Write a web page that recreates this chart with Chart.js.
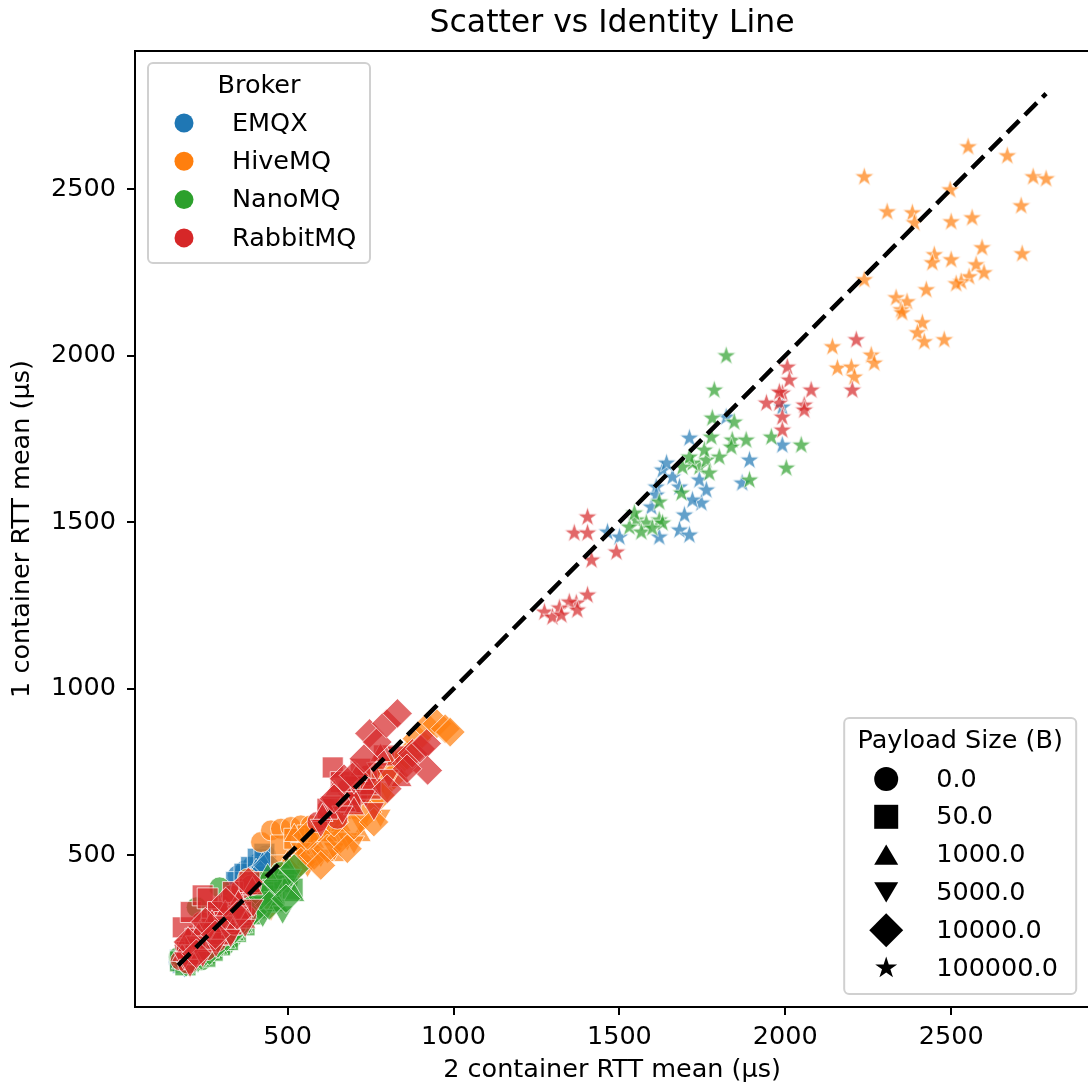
<!DOCTYPE html>
<html>
<head>
<meta charset="utf-8">
<title>Scatter vs Identity Line</title>
<script src="https://cdn.jsdelivr.net/npm/chart.js@4.4.1/dist/chart.umd.min.js"></script>
<style>
  html, body { margin: 0; padding: 0; background: #fff; overflow: hidden; }
  #wrap { position: absolute; left: 0; top: 0; }
</style>
</head>
<body>
<div id="wrap"><canvas id="rttChart" width="1105" height="1086"></canvas></div>
<script>
/* ============================================================
   DATA  (x = 2 container RTT mean, y = 1 container RTT mean, µs)
   one inner array per payload size, same order as payloadSizes
   ============================================================ */
const brokers      = ['EMQX', 'HiveMQ', 'NanoMQ', 'RabbitMQ'];
const payloadSizes = ['0.0', '50.0', '1000.0', '5000.0', '10000.0', '100000.0'];
const xTickValues  = [500, 1000, 1500, 2000, 2500];
const yTickValues  = [500, 1000, 1500, 2000, 2500];
const xRange       = [40, 2916];
const yRange       = [45, 2914];

const emqxTwo = [
  [172, 178, 186, 195, 205, 218, 232, 250, 270, 295, 320, 350, 372, 395, 415, 435],
  [176, 184, 192, 204, 216, 230, 248, 268, 290, 315, 345, 370, 390, 410, 430],
  [180, 190, 200, 214, 228, 244, 262, 284, 308, 336, 360, 385, 405, 425],
  [185, 196, 210, 224, 240, 258, 278, 300, 326, 352, 378, 400, 420],
  [190, 204, 218, 234, 252, 272, 294, 318, 344, 370, 395, 418, 440],
  [1711, 1822, 1991, 1991, 1892, 1870, 1630, 1660, 1681, 1611, 1741, 1762, 1747, 1720, 1696, 1681, 1711, 1620, 1596, 1500, 1464, 1611, 1642],
];
const emqxOne = [
  [180, 192, 200, 188, 210, 222, 238, 255, 272, 300, 330, 440, 455, 470, 480, 500],
  [186, 178, 196, 206, 214, 232, 246, 262, 286, 312, 420, 445, 465, 490, 505],
  [176, 190, 184, 200, 220, 240, 258, 280, 300, 330, 400, 430, 455, 475],
  [184, 182, 196, 214, 232, 250, 270, 292, 320, 350, 380, 420, 450],
  [178, 194, 210, 226, 244, 262, 284, 306, 334, 362, 400, 440, 470],
  [1752, 1815, 1845, 1731, 1686, 1617, 1656, 1635, 1605, 1605, 1626, 1596, 1557, 1566, 1521, 1476, 1461, 1455, 1545, 1455, 1470, 1581, 1677],
];

const hivemqTwo = [
  [260, 300, 340, 380, 420, 450, 480, 510, 540, 570, 600, 640, 680, 720, 760],
  [280, 320, 360, 400, 440, 480, 520, 560, 600, 640, 680, 720, 760, 800, 480, 560, 640],
  [300, 340, 380, 420, 460, 500, 540, 580, 620, 660, 700, 740, 780, 820, 520, 600, 640, 720],
  [320, 360, 400, 440, 480, 520, 560, 600, 640, 680, 720, 760, 800, 850, 450, 540, 620, 700, 780],
  [420, 460, 500, 540, 580, 620, 660, 700, 740, 780, 820, 860, 890, 920, 950, 975, 990, 560, 640, 720, 600, 680, 760],
  [2551, 2669, 2238, 2747, 2786, 2497, 2711, 2307, 2383, 2389, 2500, 2563, 2593, 2714, 2449, 2443, 2500, 2575, 2599, 2554, 2530, 2515, 2238, 2425, 2334, 2367, 2349, 2352, 2413, 2398, 2419, 2479, 2142, 2259, 2268, 2157, 2199, 2208],
];
const hivemqOne = [
  [270, 320, 370, 430, 540, 575, 580, 585, 590, 590, 585, 620, 660, 700, 740],
  [250, 300, 340, 380, 420, 530, 550, 560, 570, 600, 640, 680, 720, 760, 470, 500, 560],
  [280, 320, 360, 400, 440, 480, 520, 540, 560, 590, 640, 690, 740, 790, 560, 600, 500, 560],
  [300, 330, 370, 380, 410, 440, 470, 500, 520, 550, 600, 650, 700, 780, 340, 520, 610, 540, 620],
  [380, 420, 455, 480, 500, 520, 550, 590, 630, 680, 740, 800, 850, 885, 895, 880, 870, 560, 600, 690, 470, 520, 600],
  [2626, 2599, 2536, 2536, 2530, 2497, 2449, 2431, 2428, 2398, 2401, 2413, 2323, 2305, 2302, 2278, 2287, 2272, 2248, 2236, 2221, 2215, 2227, 2197, 2173, 2161, 2137, 2128, 2098, 2068, 2041, 2047, 2026, 2001, 1977, 1962, 1965, 1935],
];

const nanomqTwo = [
  [172, 185, 200, 226, 240, 260, 280, 295, 310, 330, 390, 420, 450, 480, 500],
  [176, 192, 210, 230, 252, 274, 296, 320, 344, 370, 400, 430, 460, 490, 515],
  [182, 200, 220, 242, 264, 288, 312, 338, 364, 392, 410, 440, 470, 500, 520],
  [188, 208, 230, 254, 278, 302, 328, 356, 384, 400, 425, 455, 485, 510],
  [194, 216, 240, 264, 290, 316, 342, 370, 395, 420, 445, 470, 495, 520],
  [1822, 1786, 1780, 1846, 1840, 1882, 1837, 1801, 1958, 2048, 2003, 1892, 1741, 1720, 1762, 1771, 1711, 1756, 1777, 1690, 1687, 1620, 1551, 1581, 1530, 1566, 1620, 1630, 1599, 1545],
];
const nanomqOne = [
  [195, 178, 190, 344, 185, 200, 215, 404, 230, 250, 350, 420, 390, 450, 420],
  [182, 170, 186, 200, 196, 214, 230, 246, 270, 290, 340, 380, 360, 430, 400],
  [178, 175, 190, 192, 210, 222, 240, 262, 286, 310, 330, 440, 350, 460, 380],
  [176, 180, 184, 204, 218, 232, 256, 280, 300, 360, 320, 410, 330, 440],
  [180, 188, 200, 214, 236, 256, 280, 306, 330, 380, 350, 420, 370, 460],
  [1999, 1896, 1812, 1800, 1746, 1746, 1725, 1695, 1755, 1731, 1662, 1626, 1665, 1677, 1686, 1647, 1695, 1716, 1755, 1665, 1587, 1560, 1506, 1497, 1485, 1470, 1506, 1497, 1482, 1527],
];

const rabbitmqTwo = [
  [178, 190, 200, 215, 225, 240, 255, 270, 285, 300, 315, 330, 345, 360, 375, 390, 590, 620, 650, 680, 710, 740],
  [184, 196, 208, 222, 244, 259, 270, 290, 310, 335, 360, 385, 620, 636, 660, 690, 720, 750, 790],
  [182, 200, 218, 236, 254, 272, 292, 312, 332, 352, 372, 394, 605, 640, 675, 710, 745, 780, 843, 700],
  [188, 206, 224, 244, 264, 284, 306, 328, 350, 372, 396, 600, 630, 665, 700, 735, 770, 805, 830, 760],
  [200, 225, 252, 282, 314, 348, 382, 640, 670, 700, 730, 747, 770, 798, 831, 858, 876, 900, 919, 922, 800, 860],
  [2214, 2202, 2078, 2006, 2012, 1991, 2057, 1982, 1943, 1991, 1991, 2057, 1982, 1404, 1364, 1404, 1491, 1416, 1404, 1370, 1349, 1319, 1274, 1298, 1325, 1373],
];
const rabbitmqOne = [
  [185, 230, 175, 260, 200, 300, 215, 320, 240, 350, 260, 380, 290, 400, 320, 410, 600, 640, 610, 700, 680, 740],
  [284, 210, 330, 250, 380, 371, 280, 330, 300, 390, 330, 420, 640, 764, 720, 660, 760, 700, 800],
  [200, 250, 190, 270, 230, 300, 250, 330, 280, 360, 300, 400, 620, 690, 650, 740, 700, 800, 725, 640],
  [192, 170, 240, 200, 280, 230, 300, 260, 330, 290, 350, 590, 660, 630, 720, 680, 760, 740, 810, 640],
  [240, 205, 300, 262, 360, 320, 420, 670, 730, 740, 790, 866, 840, 896, 926, 776, 806, 820, 836, 755, 700, 760],
  [2047, 1896, 1896, 1965, 1926, 1887, 1851, 1857, 1857, 1815, 1776, 1836, 1890, 1515, 1467, 1467, 1410, 1386, 1281, 1257, 1260, 1242, 1230, 1215, 1221, 1236],
];

/* ============================================================
   STYLE
   ============================================================ */
const FONT = '"DejaVu Sans", Verdana, sans-serif';
const brokerColors = [[31, 119, 180], [255, 127, 14], [44, 160, 44], [214, 39, 40]];
const seriesTwo = [emqxTwo, hivemqTwo, nanomqTwo, rabbitmqTwo];
const seriesOne = [emqxOne, hivemqOne, nanomqOne, rabbitmqOne];

const rgba = (c, a) => `rgba(${c[0]},${c[1]},${c[2]},${a})`;

function starPath(g, cx, cy, outerR) {
  const innerR = outerR * 0.381966;
  g.beginPath();
  for (let i = 0; i < 10; i++) {
    const r = i % 2 === 0 ? outerR : innerR;
    const ang = -Math.PI / 2 + i * Math.PI / 5;
    const px = cx + r * Math.cos(ang);
    const py = cy + r * Math.sin(ang);
    if (i === 0) g.moveTo(px, py); else g.lineTo(px, py);
  }
  g.closePath();
}

// filled five-point star, used as an image pointStyle
function makeStar(outerR, fill, edge, edgeWidth) {
  const size = Math.ceil(outerR * 2 + edgeWidth * 2 + 2);
  const c = document.createElement('canvas');
  c.width = size;
  c.height = size;
  const g = c.getContext('2d');
  starPath(g, size / 2, size / 2, outerR);
  g.fillStyle = fill;
  g.fill();
  if (edgeWidth > 0) {
    g.strokeStyle = edge;
    g.lineWidth = edgeWidth;
    g.stroke();
  }
  return c;
}

// marker per payload size: circle, square, ^, v, diamond, star
const markerStyles   = ['circle', 'rect', 'triangle', 'triangle', 'rectRot', 'star'];
const markerRotation = [0, 0, 0, 180, 0, 0];
const markerRadius   = [10.5, 14.8, 12.2, 12.2, 14.8, 10.3];

/* ============================================================
   DATASETS
   ============================================================ */
const datasets = [];
let idx = 0;
const total = brokers.length * payloadSizes.length;

brokers.forEach((name, b) => {
  payloadSizes.forEach((p, k) => {
    const xs = seriesTwo[b][k];
    const ys = seriesOne[b][k];
    const isStar = markerStyles[k] === 'star';
    datasets.push({
      label: name + ' / ' + p,
      data: xs.map((x, i) => ({ x: x, y: ys[i] })),
      pointStyle: isStar
        ? makeStar(markerRadius[k], rgba(brokerColors[b], 0.7), 'rgba(255,255,255,0.7)', 1)
        : markerStyles[k],
      pointRotation: markerRotation[k],
      pointRadius: markerRadius[k],
      pointHoverRadius: markerRadius[k],
      backgroundColor: rgba(brokerColors[b], 0.7),
      borderColor: 'rgba(255,255,255,0.7)',
      borderWidth: 1,
      showLine: false,
      order: total - idx,   // later brokers drawn on top
    });
    idx++;
  });
});

// identity line over the full data span
const allValues = seriesTwo.concat(seriesOne).flat(2);
const lo = Math.min(...allValues);
const hi = Math.max(...allValues);
datasets.push({
  label: 'Identity',
  data: [{ x: lo, y: lo }, { x: hi, y: hi }],
  showLine: true,
  borderColor: '#000',
  borderWidth: 4.5,
  borderDash: [17, 8],
  pointRadius: 0,
  fill: false,
  order: 0,
});

/* ============================================================
   DECORATION PLUGIN: top spine, title, the two legends
   ============================================================ */
function drawMarker(g, style, x, y, size) {
  const h = size / 2;
  g.beginPath();
  if (style === 'circle') {
    g.arc(x, y, h, 0, Math.PI * 2);
  } else if (style === 'square') {
    g.rect(x - h, y - h, size, size);
  } else if (style === 'up') {
    g.moveTo(x, y - h * 0.85); g.lineTo(x + h, y + h * 0.85); g.lineTo(x - h, y + h * 0.85); g.closePath();
  } else if (style === 'down') {
    g.moveTo(x, y + h * 0.85); g.lineTo(x + h, y - h * 0.85); g.lineTo(x - h, y - h * 0.85); g.closePath();
  } else if (style === 'diamond') {
    const d = h * 1.414;
    g.moveTo(x, y - d); g.lineTo(x + d, y); g.lineTo(x, y + d); g.lineTo(x - d, y); g.closePath();
  } else if (style === 'star') {
    starPath(g, x, y, h * 0.96);
  }
  g.fill();
}

function legendFrame(g, x, y, w, h) {
  const r = 5;
  g.beginPath();
  g.moveTo(x + r, y);
  g.lineTo(x + w - r, y);
  g.arcTo(x + w, y, x + w, y + r, r);
  g.lineTo(x + w, y + h - r);
  g.arcTo(x + w, y + h, x + w - r, y + h, r);
  g.lineTo(x + r, y + h);
  g.arcTo(x, y + h, x, y + h - r, r);
  g.lineTo(x, y + r);
  g.arcTo(x, y, x + r, y, r);
  g.closePath();
  g.fillStyle = 'rgba(255,255,255,0.8)';
  g.fill();
  g.strokeStyle = '#d0d0d0';
  g.lineWidth = 2;
  g.stroke();
}

const payloadLegendShapes = ['circle', 'square', 'up', 'down', 'diamond', 'star'];

const decorPlugin = {
  id: 'decor',
  afterDraw(chart) {
    const g = chart.ctx;
    const a = chart.chartArea;
    g.save();

    // top and right spines
    g.strokeStyle = '#000';
    g.lineWidth = 2;
    g.beginPath();
    g.moveTo(a.left - 1, a.top);
    g.lineTo(a.right, a.top);
    g.lineTo(a.right, a.bottom);
    g.stroke();

    // title
    g.fillStyle = '#000';
    g.font = '31.5px ' + FONT;
    g.textAlign = 'center';
    g.textBaseline = 'middle';
    g.fillText('Scatter vs Identity Line', (a.left + a.right) / 2, 24);

    // Broker legend (upper left)
    const bx = a.left + 13, by = a.top + 12;
    legendFrame(g, bx, by, 222, 200);
    g.font = '25.5px ' + FONT;
    g.fillStyle = '#000';
    g.textAlign = 'center';
    g.fillText('Broker', bx + 111, by + 23);
    g.textAlign = 'left';
    brokers.forEach((name, i) => {
      const ry = by + 60 + i * 38.3;
      g.fillStyle = rgba(brokerColors[i], 1);
      drawMarker(g, 'circle', bx + 36, ry, 19);
      g.fillStyle = '#000';
      g.fillText(name, bx + 84, ry + 1);
    });

    // Payload legend (lower right)
    const pw = 232, ph = 276;
    const px = a.right - 13 - pw, py = a.bottom - 13 - ph;
    legendFrame(g, px, py, pw, ph);
    g.fillStyle = '#000';
    g.textAlign = 'center';
    g.fillText('Payload Size (B)', px + pw / 2, py + 23);
    g.textAlign = 'left';
    payloadSizes.forEach((p, i) => {
      const ry = py + 61 + i * 37.8;
      g.fillStyle = '#000';
      drawMarker(g, payloadLegendShapes[i], px + 42, ry, 24);
      g.fillText(p, px + 92, ry + 1);
    });

    g.restore();
  },
};

/* ============================================================
   CHART
   ============================================================ */
const axisCommon = {
  type: 'linear',
  grid: {
    drawOnChartArea: false,
    drawTicks: true,
    tickLength: 8,
    color: '#000',
    tickColor: '#000',
    tickWidth: 2,
    lineWidth: 2,
  },
  border: { display: true, color: '#000', width: 2 },
};

new Chart(document.getElementById('rttChart'), {
  type: 'scatter',
  data: { datasets: datasets },
  plugins: [decorPlugin],
  options: {
    responsive: false,
    animation: false,
    devicePixelRatio: 1,
    layout: { padding: { left: 0, top: 51, right: 2, bottom: 0 } },
    plugins: {
      legend: { display: false },
      tooltip: { enabled: false },
      title: { display: false },
    },
    scales: {
      x: Object.assign({}, axisCommon, {
        min: xRange[0],
        max: xRange[1],
        afterBuildTicks: s => { s.ticks = xTickValues.map(v => ({ value: v })); },
        afterFit: s => { s.height = 79; },
        ticks: {
          color: '#000',
          padding: 7,
          maxRotation: 0,
          font: { family: FONT, size: 25.5 },
          callback: v => String(v),
        },
        title: {
          display: true,
          text: '2 container RTT mean (µs)',
          color: '#000',
          font: { family: FONT, size: 25.5 },
          padding: { top: 0, bottom: 0 },
        },
      }),
      y: Object.assign({}, axisCommon, {
        min: yRange[0],
        max: yRange[1],
        afterBuildTicks: s => { s.ticks = yTickValues.map(v => ({ value: v })); },
        afterFit: s => { s.width = 135; },
        ticks: {
          color: '#000',
          padding: 11,
          font: { family: FONT, size: 25.5 },
          callback: v => String(v),
        },
        title: {
          display: true,
          text: '1 container RTT mean (µs)',
          color: '#000',
          font: { family: FONT, size: 25.5 },
          padding: { top: 7, bottom: 0 },
        },
      }),
    },
  },
});
</script>
</body>
</html>
